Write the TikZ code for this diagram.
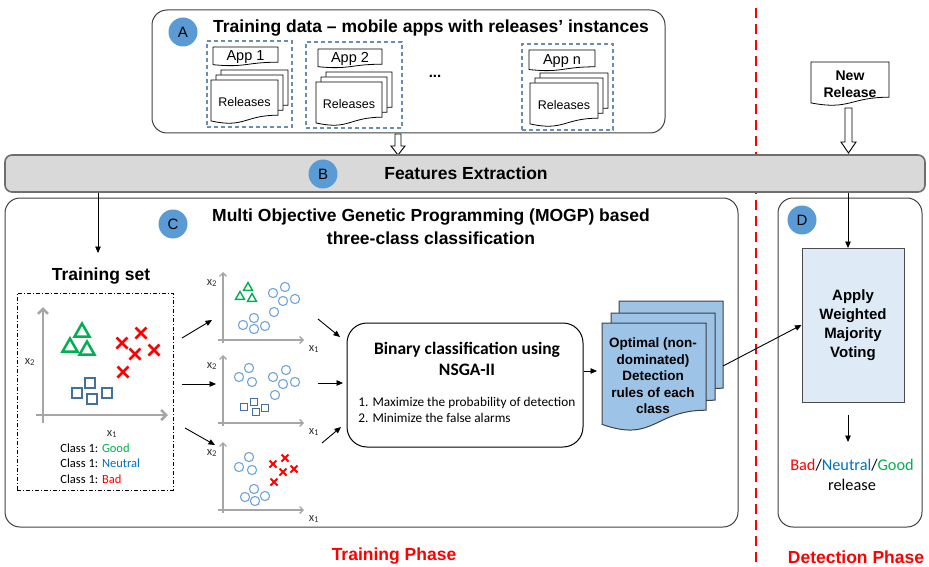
\documentclass[tikz,border=0pt]{standalone}
\usepackage{fontspec}
\setmainfont{Liberation Sans}
\newfontfamily\calfont{Carlito}
\usetikzlibrary{arrows.meta,calc}
\definecolor{circblue}{HTML}{5B9BD5}
\definecolor{dashblue}{HTML}{6A8DB5}
\definecolor{barfill}{HTML}{D9D9D9}
\definecolor{barline}{HTML}{6E6E6E}
\definecolor{docfill}{HTML}{9DC3E6}
\definecolor{applyfill}{HTML}{DEEBF7}
\definecolor{goodgreen}{HTML}{00B050}
\definecolor{neutblue}{HTML}{0070C0}
\definecolor{badred}{HTML}{FF0000}
\definecolor{sqblue}{HTML}{41719C}
\definecolor{ptblue}{HTML}{6FA3DA}
\definecolor{axgray}{HTML}{A6A6A6}
\definecolor{boxline}{HTML}{404040}

\newcommand{\docshape}[5][]{%
  \draw[#1] ({#2},{#3}) -- ({#4},{#3}) -- ({#4},{(#3)+0.8*((#5)-(#3))})
   .. controls ({((#2)+(#4))/2},{(#3)+0.8*((#5)-(#3))}) and ({((#2)+(#4))/2},{(#3)+1.1*((#5)-(#3))})
   .. ({#2},{(#3)+0.93*((#5)-(#3))}) -- cycle;}
\newcommand{\relstack}[5]{%
  \docshape[docw]{(#1)+10}{(#2)-10}{(#3)+10}{(#4)-10}
  \docshape[docw]{(#1)+5}{(#2)-5}{(#3)+5}{(#4)-5}
  \docshape[docw]{#1}{#2}{#3}{#4}
  \node[font=\fontsize{12.5}{15}\selectfont] (#5) at ({((#1)+(#3))/2},{(#2)+0.5*((#4)-(#2))}) {Releases};}
\newcommand{\tri}[4][]{\draw[#1] ({(#2)-(#4)},{(#3)+0.75*(#4)}) -- ({(#2)+(#4)},{(#3)+0.75*(#4)}) -- ({#2},{(#3)-(#4)}) -- cycle;}
\newcommand{\crs}[4][]{\draw[#1] ({(#2)-(#4)},{(#3)-(#4)}) -- ({(#2)+(#4)},{(#3)+(#4)}) ({(#2)-(#4)},{(#3)+(#4)}) -- ({(#2)+(#4)},{(#3)-(#4)});}
\newcommand{\sqr}[4][]{\draw[#1] ({(#2)-(#4)},{(#3)-(#4)}) rectangle ({(#2)+(#4)},{(#3)+(#4)});}
\newcommand{\pcirc}[2]{\draw[ptblue, line width=1.1pt] (#1,#2) circle[radius=4.6];}

\tikzset{
  every path/.style={line width=0.9pt},
  docw/.style={draw=black, fill=white, line width=0.8pt},
  docb/.style={draw=boxline, fill=docfill, line width=1pt},
  circ/.style={circle, fill=circblue, minimum size=29pt, inner sep=0pt, font=\fontsize{15}{15}\selectfont},
  bigbox/.style={draw=boxline, rounded corners=15pt, inner sep=0pt, line width=1pt},
  dashbox/.style={draw=dashblue, dash pattern=on 4pt off 3pt, line width=1.1pt, inner sep=0pt},
  ttl/.style={font=\bfseries\fontsize{17.5}{21}\selectfont, align=center},
  arr/.style={-{Triangle[length=6.5pt,width=5.5pt]}, line width=0.9pt},
  hollow/.style={draw=black, fill=white, line width=0.9pt},
  bigax/.style={axgray, line width=2.6pt, -{Straight Barb[length=5pt,width=10pt]}},
  smax/.style={axgray, line width=1.4pt, -{Straight Barb[length=3.5pt,width=7pt]}},
  axlab/.style={font=\calfont\fontsize{12.5}{14}\selectfont, text=black!80, inner sep=0pt},
  apptxt/.style={font=\fontsize{14.5}{16}\selectfont, anchor=base},
  bigtri/.style={goodgreen, line width=2.5pt, line join=miter},
  bigcrs/.style={badred, line width=2.8pt},
  bigsq/.style={sqblue, line width=2pt},
  smtri/.style={goodgreen, line width=1.4pt},
  smcrs/.style={badred, line width=1.9pt},
  smsq/.style={sqblue, line width=1.4pt},
}

\begin{document}
\begin{tikzpicture}[x=1pt,y=-1pt]
\useasboundingbox (0,0) rectangle (929,567);

% red phase separator
\draw[badred, line width=2.6pt, dash pattern=on 10pt off 6pt] (756,8) -- (756,567);

% ---------- A ----------
\node[bigbox, minimum width=513pt, minimum height=123pt] (boxA) at (408.5,71.5) {};
\node[circ] (cA) at (183,32) {A};
\node[ttl] (tA) at (431,28) {Training data -- mobile apps with releases’ instances};

\node[dashbox, minimum width=85pt, minimum height=86pt] (g1) at (249.5,84) {};
\node[dashbox, minimum width=96pt, minimum height=86pt] (g2) at (354,85) {};
\node[dashbox, minimum width=91pt, minimum height=86pt] (gn) at (567.5,87) {};

\docshape[docw]{213}{47}{278}{66}
\node[apptxt] (app1) at (245.5,61) {App 1};
\docshape[docw]{318}{49}{382}{68}
\node[apptxt] (app2) at (350,63) {App 2};
\docshape[docw]{529}{50}{595}{71}
\node[apptxt] (appn) at (562,64.5) {App n};

\relstack{211}{80}{278}{124}{rel1}
\relstack{316}{82}{382}{126}{rel2}
\relstack{530}{83}{598}{127}{reln}

\node[font=\bfseries\fontsize{15}{15}\selectfont] (dots) at (435,76) {...};

% hollow arrow A -> bar
\draw[hollow] (395,134) -- (401,134) -- (401,146) -- (405,146) -- (398,155) -- (391,146) -- (395,146) -- cycle;

% ---------- New release ----------
\docshape[docw]{811}{62}{889}{106}
\node[font=\bfseries\fontsize{14}{17}\selectfont, align=center] (newrel) at (850,84) {New\\Release};
\draw[hollow] (845,108) -- (852,108) -- (852,142) -- (856,142) -- (848.5,153) -- (841,142) -- (845,142) -- cycle;

% ---------- B bar ----------
\node[draw=barline, fill=barfill, rounded corners=7pt, line width=1.6pt, minimum width=920pt, minimum height=37pt, inner sep=0pt] (bar) at (465,173.5) {};
\node[circ] (cB) at (323,174) {B};
\node[ttl] (tB) at (466,173) {Features Extraction};

% ---------- C ----------
\node[bigbox, minimum width=733pt, minimum height=329pt] (boxC) at (371.5,362.5) {};
\node[circ] (cC) at (173,224) {C};
\node[ttl] (tC1) at (431,217) {Multi Objective Genetic Programming (MOGP) based};
\node[ttl] (tC2) at (431,238.5) {three-class classification};

\coordinate (tsarr) at (98,253);
\draw[arr] (bar.south -| tsarr) -- (tsarr);

\node[ttl] (tsl) at (101,276) {Training set};
\node[draw=black, dash pattern=on 4pt off 2pt on 1pt off 2pt, line width=0.9pt, minimum width=156pt, minimum height=197pt, inner sep=0pt] (tsbox) at (95,391.5) {};

\draw[bigax] (43,423) -- (43,307);
\draw[bigax] (36,415) -- (168,415);
\node[axlab] (tsx2) at (30,362) {x\textsubscript{2}};
\node[axlab] (tsx1) at (112,434) {x\textsubscript{1}};

\tri[bigtri]{82}{331}{7.5}
\tri[bigtri]{70}{346}{7.5}
\tri[bigtri]{87}{349}{7.5}
\crs[bigcrs]{122}{343}{5.5}
\crs[bigcrs]{141}{333}{5.5}
\crs[bigcrs]{135}{354}{5.5}
\crs[bigcrs]{154}{350}{5.5}
\crs[bigcrs]{123}{372}{5.5}
\sqr[bigsq]{77}{393}{5.2}
\sqr[bigsq]{90}{383}{5.2}
\sqr[bigsq]{92}{399}{5.2}
\sqr[bigsq]{107}{393}{5.2}

\node[anchor=west, font=\calfont\fontsize{12.5}{14}\selectfont, inner sep=0pt] (cl1) at (60,448) {Class 1: \textcolor{goodgreen}{Good}};
\node[anchor=west, font=\calfont\fontsize{12.5}{14}\selectfont, inner sep=0pt] (cl2) at (60,463.5) {Class 1: \textcolor{neutblue}{Neutral}};
\node[anchor=west, font=\calfont\fontsize{12.5}{14}\selectfont, inner sep=0pt] (cl3) at (60,479) {Class 1: \textcolor{badred}{Bad}};

% small plots
\foreach \oy/\nm in {340/p1,423/p2,510/p3}{
  \draw[smax] (223,\oy+3) -- (223,\oy-68);
  \draw[smax] (218,\oy) -- (304,\oy);
  \node[axlab] (\nm x2) at (212,\oy-57) {x\textsubscript{2}};
  \node[axlab] (\nm x1) at (314,\oy+9) {x\textsubscript{1}};
}
% plot 1
\tri[smtri]{248}{287}{4.5}
\tri[smtri]{240}{296}{4.5}
\tri[smtri]{252}{298}{4.5}
\foreach \px/\py in {273/293,285/287,283/301,295/299,274/312,243/325,254/318,254/329,265/326}{\pcirc{\px}{\py}}
% plot 2
\foreach \px/\py in {239/377,249/368,252/382,273/377,286/370,283/384,295/382,275/395}{\pcirc{\px}{\py}}
\sqr[smsq]{244}{407}{3.6}
\sqr[smsq]{254}{402}{3.6}
\sqr[smsq]{256}{412}{3.6}
\sqr[smsq]{265}{408}{3.6}
% plot 3
\foreach \px/\py in {239/467,249/457,252/470,245/497,254/489,255/501,265/496}{\pcirc{\px}{\py}}
\crs[smcrs]{273}{464}{3.5}
\crs[smcrs]{285}{458}{3.5}
\crs[smcrs]{283}{472}{3.5}
\crs[smcrs]{294}{469}{3.5}
\crs[smcrs]{274}{482}{3.5}

% arrows training set -> plots
\coordinate (ts1) at (182,338); \coordinate (p1in) at (212,320);
\coordinate (ts2) at (182,384); \coordinate (p2in) at (216,384);
\coordinate (ts3) at (185,428); \coordinate (p3in) at (215,445);
\draw[arr] (ts1) -- (p1in);
\draw[arr] (ts2) -- (p2in);
\draw[arr] (ts3) -- (p3in);

% binary box
\node[draw=black, rounded corners=20pt, line width=1pt, minimum width=236pt, minimum height=124pt, inner sep=0pt] (bin) at (465,385) {};
\node[font=\calfont\bfseries\fontsize{17.5}{21}\selectfont, align=center] (binT) at (467,358.5) {Binary classification using\\NSGA-II};
\node[font=\calfont\fontsize{13.3}{16}\selectfont, align=left, anchor=west, inner sep=0pt] (binL) at (358,410) {1. Maximize the probability of detection\\2. Minimize the false alarms};

\coordinate (p1out) at (318,319); \coordinate (b1) at (340,337);
\coordinate (p2out) at (318,383); \coordinate (b2) at (343,383);
\coordinate (p3out) at (322,443); \coordinate (b3) at (341,427);
\draw[arr] (p1out) -- (b1);
\draw[arr] (p2out) -- (b2);
\draw[arr] (p3out) -- (b3);

% detection rules docs
\docshape[docb]{619}{301}{723}{410}
\docshape[docb]{611}{313}{715}{422}
\docshape[docb]{602}{323}{706}{432}
\node[font=\bfseries\fontsize{13.5}{16.5}\selectfont, align=center] (rules) at (653,376) {Optimal (non-\\dominated)\\Detection\\rules of each\\class};
\coordinate (docin) at (597,371);
\draw[arr] (docin -| bin.east) -- (docin);

% ---------- D ----------
\node[bigbox, minimum width=144pt, minimum height=329pt] (boxD) at (850,362.5) {};
\node[circ] (cD) at (802,220) {D};
\node[draw=black!70, fill=applyfill, line width=1pt, minimum width=102pt, minimum height=154pt, inner sep=0pt, font=\bfseries\fontsize{15}{19}\selectfont, align=center] (apply) at (853,325) {Apply\\Weighted\\Majority\\Voting};
\coordinate (dtop) at (848,248);
\draw[arr] (bar.south -| dtop) -- (dtop);
\coordinate (docout) at (723,366);
\draw[arr] (docout) -- (apply.west);
\coordinate (aout) at (848,415); \coordinate (resin) at (848,442);
\draw[arr] (aout) -- (resin);
\node[font=\calfont\fontsize{16.3}{20}\selectfont, align=center] (res) at (852,475) {\textcolor{badred}{Bad}/\textcolor{neutblue}{Neutral}/\textcolor{goodgreen}{Good}\\release};

% phase labels
\node[font=\bfseries\fontsize{17.5}{21}\selectfont, text=badred] (trp) at (394,556) {Training Phase};
\node[font=\bfseries\fontsize{17.5}{21}\selectfont, text=badred] (dep) at (856,557) {Detection Phase};
\end{tikzpicture}
\end{document}
